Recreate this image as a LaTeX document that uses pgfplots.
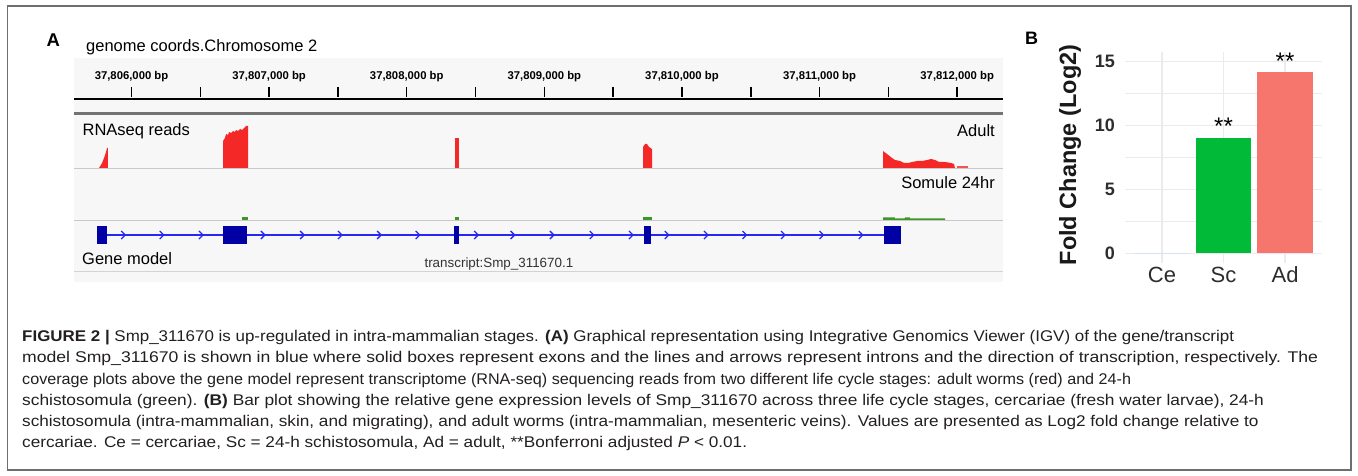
\documentclass[border=0pt]{standalone}
\usepackage{pgfplots}
\pgfplotsset{compat=1.18}
\usepackage{fontspec}
\setmainfont{Liberation Sans}
\newfontfamily\capfont{Liberation Sans}
\newcommand\fs[1]{\fontsize{#1}{#1}\selectfont}

\definecolor{igvbg}{RGB}{247,247,247}
\definecolor{igvred}{RGB}{245,40,40}
\definecolor{igvgreen}{RGB}{60,150,40}
\definecolor{exon}{RGB}{0,0,165}
\definecolor{intron}{RGB}{40,40,245}
\definecolor{sep}{RGB}{200,200,200}
\definecolor{gg}{RGB}{235,235,235}
\definecolor{ggreen}{RGB}{0,186,56}
\definecolor{gred}{RGB}{246,117,108}
\definecolor{gblue}{RGB}{97,156,255}
\definecolor{frame}{RGB}{110,110,110}
\definecolor{captxt}{RGB}{35,31,32}
\definecolor{ticktxt}{RGB}{45,45,45}

\begin{document}
\begin{tikzpicture}[x=1pt,y=1pt]
\path[use as bounding box, fill=white] (0,0) rectangle (1358,476);
\draw[frame, line width=1.5pt] (7.5,6) rectangle (1351,470);

% ---------------- Panel A ----------------
\node[anchor=base west, inner sep=0pt, font=\bfseries\fs{18.5}] at (46.5,429.3) {A};
\node[anchor=base west, inner sep=0pt, font=\fs{16.5}] at (86,424.3) {genome coords.Chromosome 2};

\begin{axis}[at={(74pt,194pt)}, anchor=south west, width=929pt, height=224pt, scale only axis,
  xmin=5582, xmax=12333, ymin=58, ymax=282, y dir=reverse,
  hide axis, clip=false, unbounded coords=jump]
% background
\addplot[fill=igvbg, draw=none] coordinates {(5582,58) (12333,58) (12333,282) (5582,282)};
% ruler
\addplot[black, line width=1.5pt] coordinates {
 (6000,87)(6000,97)(6000,nan) (6500,87)(6500,97)(6500,nan)
 (7000,87)(7000,97)(7000,nan) (7500,87)(7500,97)(7500,nan)
 (8000,87)(8000,97)(8000,nan) (8500,87)(8500,97)(8500,nan)
 (9000,87)(9000,97)(9000,nan) (9500,87)(9500,97)(9500,nan)
 (10000,87)(10000,97)(10000,nan) (10500,87)(10500,97)(10500,nan)
 (11000,87)(11000,97)(11000,nan) (11500,87)(11500,97)(11500,nan)
 (12000,87)(12000,97)};
\addplot[black, line width=1.3pt] coordinates {(5582,99) (12333,99)};
\addplot[gray!90!black, line width=3.3pt] coordinates {(5582,113.3) (12333,113.3)};
% separators
\addplot[sep, line width=1pt] coordinates {(5582,168.5) (12333,168.5)};
\addplot[sep, line width=1pt] coordinates {(5582,220.5) (12333,220.5)};
\addplot[sep!80, line width=1pt] coordinates {(5582,272) (12333,272)};
% ruler labels
\node[font=\bfseries\fs{11.3}, anchor=base] at (axis cs:6000,80) {37,806,000 bp};
\node[font=\bfseries\fs{11.3}, anchor=base] at (axis cs:7000,80) {37,807,000 bp};
\node[font=\bfseries\fs{11.3}, anchor=base] at (axis cs:8000,80) {37,808,000 bp};
\node[font=\bfseries\fs{11.3}, anchor=base] at (axis cs:9000,80) {37,809,000 bp};
\node[font=\bfseries\fs{11.3}, anchor=base] at (axis cs:10000,80) {37,810,000 bp};
\node[font=\bfseries\fs{11.3}, anchor=base] at (axis cs:11000,80) {37,811,000 bp};
\node[font=\bfseries\fs{11.3}, anchor=base] at (axis cs:12000,80) {37,812,000 bp};
% Adult coverage (red)
\addplot[fill=igvred, draw=none] coordinates {(5764,168)(5786,163)(5800,158)(5815,152)(5822,148)(5829,148)(5829,168)};
\addplot[fill=igvred, draw=none] coordinates {(6665,168)(6665,141)(6679,138)(6687,134)(6701,135)(6709,132)(6723,133)(6738,131)(6752,132)(6759,130)(6774,131)(6789,129)(6803,130)(6818,128)(6832,126)(6847,126)(6847,168)};
\addplot[fill=igvred, draw=none] coordinates {(8351,168)(8351,138)(8380,138)(8380,168)};
\addplot[fill=igvred, draw=none] coordinates {(9717,168)(9717,147)(9732,144)(9746,144)(9761,147)(9783,149)(9783,168)};
\addplot[fill=igvred, draw=none] coordinates {(11461,168)(11461,151)(11490,154)(11527,158)(11548,160)(11585,161)(11614,163)(11643,163)(11672,162)(11708,161)(11745,161)(11781,160)(11810,159)(11839,160)(11868,162)(11912,162)(11955,163)(11977,164)(11984,168)};
\addplot[fill=igvred!80, draw=none] coordinates {(11999,168)(11999,166.5)(12079,166.5)(12079,168)};
% Somule coverage (green)
\addplot[fill=igvgreen, draw=none] coordinates {(6803,220)(6803,217.3)(6847,217.3)(6847,220)};
\addplot[fill=igvgreen, draw=none] coordinates {(8351,220)(8351,217.3)(8380,217.3)(8380,220)};
\addplot[fill=igvgreen, draw=none] coordinates {(9717,220)(9717,217.3)(9783,217.3)(9783,220)};
\addplot[fill=igvgreen, draw=none] coordinates {(11461,220)(11461,217.3)(11548,217.3)(11548,218.3)(11620,218.3)(11620,217.3)(11657,217.3)(11657,218.3)(11912,218.3)(11912,220)};
% gene model: intron line, chevrons, exons
\addplot[intron, line width=1.3pt] coordinates {(5824,235) (11471,235)};
\addplot[intron, line width=1.3pt] coordinates {
 (5925,231)(5954,235)(5925,239)(5950,nan)
 (6205,231)(6234,235)(6205,239)(6230,nan)
 (6490,231)(6519,235)(6490,239)(6515,nan)
 (6940,231)(6969,235)(6940,239)(6965,nan)
 (7225,231)(7254,235)(7225,239)(7250,nan)
 (7500,231)(7529,235)(7500,239)(7525,nan)
 (7785,231)(7814,235)(7785,239)(7810,nan)
 (8065,231)(8094,235)(8065,239)(8090,nan)
 (8490,231)(8519,235)(8490,239)(8515,nan)
 (8755,231)(8784,235)(8755,239)(8780,nan)
 (9040,231)(9069,235)(9040,239)(9065,nan)
 (9330,231)(9359,235)(9330,239)(9355,nan)
 (9615,231)(9644,235)(9615,239)(9640,nan)
 (9875,231)(9904,235)(9875,239)(9900,nan)
 (10160,231)(10189,235)(10160,239)(10185,nan)
 (10440,231)(10469,235)(10440,239)(10465,nan)
 (10720,231)(10749,235)(10720,239)(10745,nan)
 (11000,231)(11029,235)(11000,239)(11025,nan)
 (11285,231)(11314,235)(11285,239)};
\addplot[fill=exon, draw=none] coordinates {(5752,226)(5824,226)(5824,244)(5752,244)};
\addplot[fill=exon, draw=none] coordinates {(6667,226)(6837,226)(6837,244)(6667,244)};
\addplot[fill=exon, draw=none] coordinates {(8344,226)(8378,226)(8378,244)(8344,244)};
\addplot[fill=exon, draw=none] coordinates {(9724,226)(9775,226)(9775,244)(9724,244)};
\addplot[fill=exon, draw=none] coordinates {(11471,226)(11592,226)(11592,244)(11471,244)};
% track labels
\node[font=\fs{16.5}, anchor=base west, inner sep=0pt] at (axis cs:5643,136) {RNAseq reads};
\node[font=\fs{16.5}, anchor=base east, inner sep=0pt] at (axis cs:12275,136.5) {Adult};
\node[font=\fs{16.5}, anchor=base east, inner sep=0pt] at (axis cs:12275,188.3) {Somule 24hr};
\node[font=\fs{16.5}, anchor=base west, inner sep=0pt] at (axis cs:5640,264.3) {Gene model};
\node[font=\fs{13.4}, anchor=base west, inner sep=0pt, text=black!80] at (axis cs:8128,267.3) {transcript:Smp\_311670.1};
\end{axis}

% ---------------- Panel B ----------------
\node[anchor=base west, inner sep=0pt, font=\bfseries\fs{18}] at (1025,431) {B};
\begin{axis}[at={(1125pt,213pt)}, anchor=south west, width=197pt, height=211.3pt, scale only axis,
  xmin=0.4, xmax=3.6, ymin=-0.75, ymax=15.75,
  axis line style={draw=none}, major tick length=0pt, minor tick length=0pt,
  tick style={draw=none},
  xtick={1,2,3}, xticklabels={Ce,Sc,Ad},
  ytick={0,5,10,15}, minor ytick={2.5,7.5,12.5},
  grid=both, major grid style={gg, line width=1.5pt}, minor grid style={gg, line width=0.8pt},
  /pgf/number format/assume math mode=true,
  yticklabel style={font=\bfseries\fs{18}, text=ticktxt, anchor=east, inner sep=0pt, xshift=-10pt},
  xticklabel style={font=\fs{22}, text=ticktxt, anchor=north, inner sep=0pt, yshift=-3.5pt},
  ylabel={Fold Change (Log2)},
  ylabel style={font=\bfseries\fs{23.5}, text=black!90, at={(axis description cs:-0.279,0.511)}, anchor=center, inner sep=0pt},
  clip=false]
\addplot[ybar, bar width=0.9, bar shift=0pt, fill=gblue, draw=none] coordinates {(1,0)};
\addplot[ybar, bar width=0.9, bar shift=0pt, fill=ggreen, draw=none] coordinates {(2,9.0)};
\addplot[ybar, bar width=0.9, bar shift=0pt, fill=gred, draw=none] coordinates {(3,14.2)};
\node[font=\fs{24}, anchor=base] at (axis cs:2,9.27) {**};
\node[font=\fs{24}, anchor=base] at (axis cs:3,14.35) {**};
\end{axis}

% ---------------- Caption ----------------
\begin{scope}[every node/.style={anchor=base west, inner sep=0pt, text=captxt, font=\capfont\fs{15.5}}]
\node at (22,134.5) {\scalebox{1.093}[1]{\textbf{FIGURE 2 |} Smp\_311670 is up-regulated in intra-mammalian stages. \textbf{(A)} Graphical representation using Integrative Genomics Viewer (IGV) of the gene/transcript}};
\node at (22,113.2) {\scalebox{1.136}[1]{model Smp\_311670 is shown in blue where solid boxes represent exons and the lines and arrows represent introns and the direction of transcription, respectively. The}};
\node at (22,91.9) {\scalebox{1.042}[1]{coverage plots above the gene model represent transcriptome (RNA-seq) sequencing reads from two different life cycle stages: adult worms (red) and 24-h}};
\node at (22,70.6) {\scalebox{1.118}[1]{schistosomula (green). \textbf{(B)} Bar plot showing the relative gene expression levels of Smp\_311670 across three life cycle stages, cercariae (fresh water larvae), 24-h}};
\node at (22,49.3) {\scalebox{1.108}[1]{schistosomula (intra-mammalian, skin, and migrating), and adult worms (intra-mammalian, mesenteric veins). Values are presented as Log2 fold change relative to}};
\node at (22,28.0) {\scalebox{1.109}[1]{cercariae. Ce = cercariae, Sc = 24-h schistosomula, Ad = adult, **Bonferroni adjusted \textit{P} < 0.01.}};
\end{scope}
\end{tikzpicture}
\end{document}
